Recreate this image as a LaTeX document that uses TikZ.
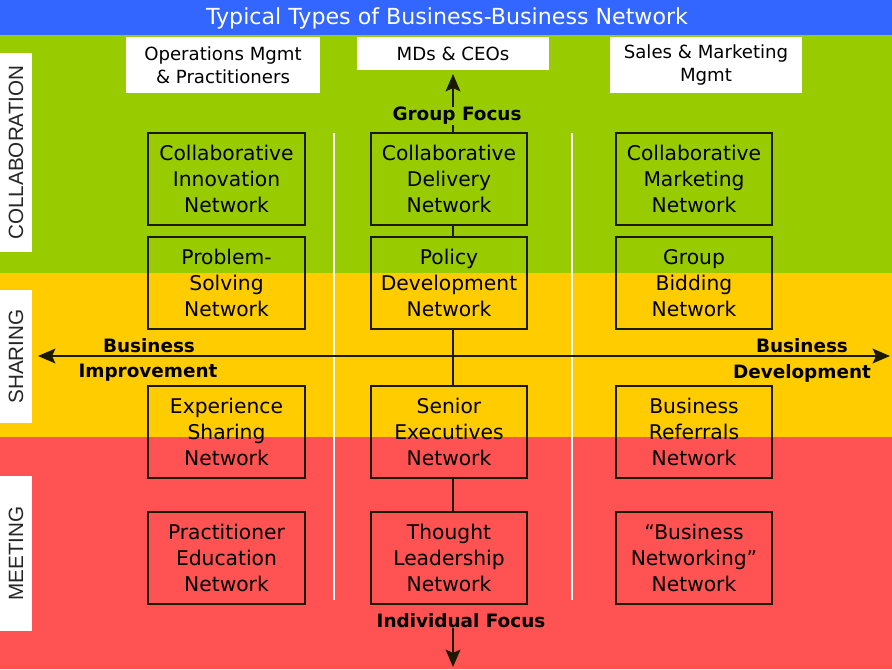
\documentclass[tikz,border=0pt]{standalone}
\usepackage{fontspec}
\setmainfont{DejaVu Sans}
\newfontfamily\tabfont{Liberation Sans}
\usetikzlibrary{arrows.meta}
\definecolor{bandblue}{HTML}{3366FF}
\definecolor{bandgreen}{HTML}{99CC00}
\definecolor{bandyellow}{HTML}{FFCC00}
\definecolor{bandred}{HTML}{FF5252}
\definecolor{boxline}{HTML}{1A1A00}
\begin{document}
\begin{tikzpicture}[x=0.75pt,y=-0.75pt,
  netbox/.style={draw=boxline, line width=1.4pt, minimum width=117.5pt, minimum height=68.5pt,
     align=center, inner sep=0pt, font=\fontsize{15.2}{19.5}\selectfont, text=black},
  hdrbox/.style={fill=white, inner sep=0pt, align=center, font=\fontsize{13.6}{17.5}\selectfont},
  tabbox/.style={fill=white, inner sep=0pt, minimum width=24pt},
  tabtext/.style={rotate=90, font=\tabfont\fontsize{15.5}{15.5}\selectfont, text=black!85},
  axislabel/.style={font=\bfseries\fontsize{13.8}{16}\selectfont, inner sep=0pt},
  conn/.style={draw=boxline, line width=1.6pt},
  tip/.style={Stealth[length=13pt,width=11pt,inset=2.5pt]},
  arr/.style={conn, -{Stealth[length=13pt,width=11pt,inset=2.5pt]}},
  sep/.style={draw=white, line width=1.4pt}
]
\useasboundingbox (0,0) rectangle (892,669);
% bands
\fill[bandblue] (0,0) rectangle (892,35);
\fill[bandgreen] (0,35) rectangle (892,273);
\fill[bandyellow] (0,273) rectangle (892,437);
\fill[bandred] (0,437) rectangle (892,669);
% title
\node[text=white, font=\fontsize{16.6}{18}\selectfont, inner sep=0pt] (title) at (447,18) {Typical Types of Business-Business Network};
% header boxes
\node[hdrbox, minimum width=145.5pt, minimum height=42pt] (hops) at (223,65) {Operations Mgmt\\\& Practitioners};
\node[hdrbox, minimum width=144pt, minimum height=24.75pt] (hmd) at (453,53.5) {MDs \& CEOs};
\node[hdrbox, minimum width=144pt, minimum height=42pt] (hsal) at (706,65) {Sales \& Marketing\\Mgmt};
% left tabs
\node[tabbox, minimum height=149.25pt] (tcol) at (16,152.5) {};
\node[tabtext] at (tcol.center) {COLLABORATION};
\node[tabbox, minimum height=99.75pt] (tsha) at (16,356.5) {};
\node[tabtext] at (tsha.center) {SHARING};
\node[tabbox, minimum height=116.25pt] (tmee) at (16,553.5) {};
\node[tabtext] at (tmee.center) {MEETING};
% white separators
\coordinate (s1t) at (334,133); \coordinate (s1b) at (334,600);
\coordinate (s2t) at (572,133); \coordinate (s2b) at (572,600);
\draw[sep] (s1t) -- (s1b);
\draw[sep] (s2t) -- (s2b);
% boxes
\node[netbox] (l1) at (226.5,179) {Collaborative\\Innovation\\Network};
\node[netbox] (l2) at (226.5,283) {Problem-\\Solving\\Network};
\node[netbox] (l3) at (226.5,432) {Experience\\Sharing\\Network};
\node[netbox] (l4) at (226.5,558) {Practitioner\\Education\\Network};
\node[netbox] (c1) at (449,179) {Collaborative\\Delivery\\Network};
\node[netbox] (c2) at (449,283) {Policy\\Development\\Network};
\node[netbox] (c3) at (449,432) {Senior\\Executives\\Network};
\node[netbox] (c4) at (449,558) {Thought\\Leadership\\Network};
\node[netbox] (r1) at (694,179) {Collaborative\\Marketing\\Network};
\node[netbox] (r2) at (694,283) {Group\\Bidding\\Network};
\node[netbox] (r3) at (694,432) {Business\\Referrals\\Network};
\node[netbox] (r4) at (694,558) {``Business\\Networking''\\Network};
% axis labels
\node[axislabel] (gf) at (457,116) {Group Focus};
\node[axislabel] (if) at (461,621) {Individual Focus};
\node[axislabel] (bl1) at (149,346) {Business};
\node[axislabel] (bl2) at (148,373) {Improvement};
\node[axislabel] (br1) at (802,346) {Business};
\node[axislabel] (br2) at (802,373) {Development};
% vertical connectors
\coordinate (vx) at (453,0);
\coordinate (uptip) at (453,74);
\coordinate (downtip) at (453,667);
\draw[arr] (gf.north -| vx) -- (uptip);
\draw[conn] (gf.south -| vx) -- (c1.north -| vx);
\draw[conn] (c1.south -| vx) -- (c2.north -| vx);
\draw[conn] (c2.south -| vx) -- (c3.north -| vx);
\draw[conn] (c3.south -| vx) -- (c4.north -| vx);
\draw[arr] (if.south -| vx) -- (downtip);
% horizontal axis
\coordinate (axL) at (38,356);
\coordinate (axR) at (890,356);
\draw[conn, {Stealth[length=13pt,width=11pt,inset=2.5pt]}-{Stealth[length=13pt,width=11pt,inset=2.5pt]}] (axL) -- (axR);
\end{tikzpicture}
\end{document}
